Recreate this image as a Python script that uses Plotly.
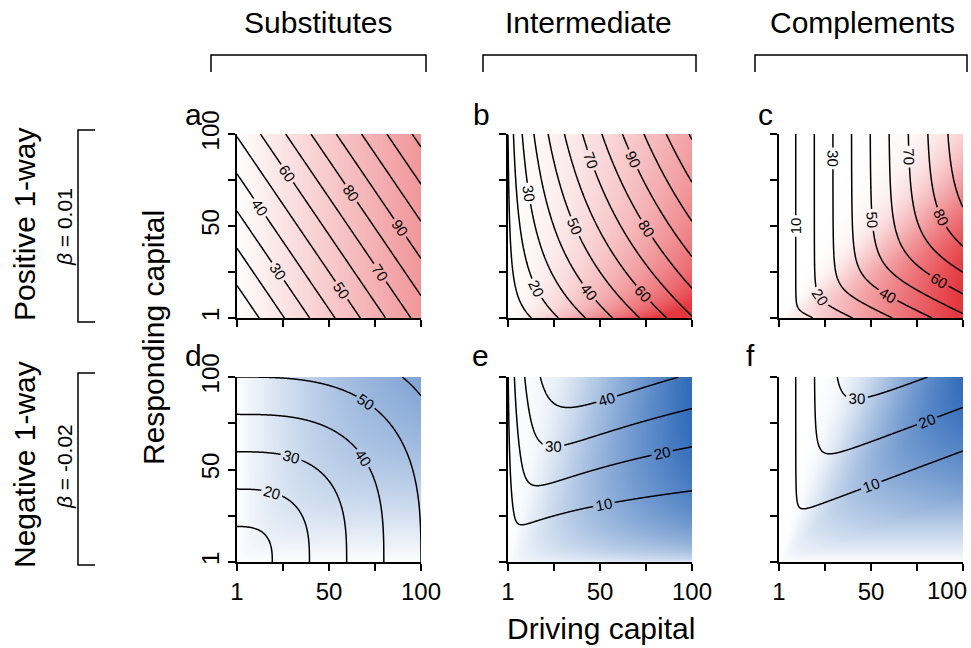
import numpy as np
import plotly.graph_objects as go

# ---------------- values ----------------
col_titles = ["Substitutes", "Intermediate", "Complements"]
panel_letters = [["a", "b", "c"], ["d", "e", "f"]]
row_titles = ["Positive 1-way", "Negative 1-way"]
row_betas = ["<i>β</i> = 0.01", "<i>β</i> = -0.02"]
x_title = "Driving capital"
y_title = "Responding capital"

tick_vals = [1, 25.75, 50.5, 75.25, 100]
tick_text = ["1", "", "50", "", "100"]

# model parameters estimated from the contour labels
pos_gain = 0.47          # responding capital gain per unit driving capital (beta = 0.01)
neg_keep = 0.43          # complements, beta = -0.02: kept share of responding capital
neg_loss = 0.16          # complements, beta = -0.02: loss per unit driving capital
ces_rho = -5.0           # complements CES exponent
subst_power = 3.0        # substitutes, beta = -0.02: superellipse exponent
inter_amp = 0.95         # intermediate, beta = -0.02
inter_scale = 2.3

# contour levels (start, end, step) per panel
levels = [[(10, 130, 10), (10, 120, 10), (10, 90, 10)],
          [(10, 60, 10), (10, 40, 10), (10, 30, 10)]]
color_max = [45.0, 60.0]
color_scales = [[[0, "rgb(255,255,255)"], [1, "rgb(228,55,62)"]],
                [[0, "rgb(255,255,255)"], [1, "rgb(50,108,186)"]]]

# ---------------- fields ----------------
g = np.linspace(1, 100, 240)
X, Y = np.meshgrid(g, g)


def ces(a, b, r=ces_rho):
    return (a ** r + b ** r) ** (1.0 / r)


Yp = Y + pos_gain * X
fields = [[None] * 3, [None] * 3]
W = (X + Yp) / 2
fields[0][0] = (W, W - (X + Y) / 2)
W = np.sqrt(X * Yp)
fields[0][1] = (W, W - np.sqrt(X * Y))
W = ces(X, Yp)
fields[0][2] = (W, W - ces(X, Y))
W = ((X / 2) ** subst_power + (Y / 2) ** subst_power) ** (1 / subst_power)
fields[1][0] = (W, (X + Y) / 2 - W)
W = inter_amp * np.sqrt(X * Y) * np.tanh(Y / (inter_scale * X))
fields[1][1] = (W, np.sqrt(X * Y) - W)
Yn = np.maximum(neg_keep * Y - neg_loss * X, 1e-6)
W = ces(X, Yn)
fields[1][2] = (W, ces(X, Y) - W)

# ---------------- layout geometry (pixels) ----------------
FW, FH = 971, 648
col_px = [(237, 421), (508, 692), (779, 963)]
row_px = [(134, 318), (377, 562)]


def px(x):
    return x / FW


def py(y):
    return 1 - y / FH


fig = go.Figure()
FONT = "Liberation Sans, Arial, Helvetica, sans-serif"

k = 0
for r in range(2):
    for c in range(3):
        k += 1
        xa = "x" if k == 1 else f"x{k}"
        ya = "y" if k == 1 else f"y{k}"
        Wf, Cf = fields[r][c]
        fig.add_trace(go.Heatmap(
            x=g, y=g, z=np.clip(Cf, 0, None), zmin=0, zmax=color_max[r],
            colorscale=color_scales[r], showscale=False, hoverinfo="skip",
            xaxis=xa, yaxis=ya))
        s, e, st = levels[r][c]
        fig.add_trace(go.Contour(
            x=g, y=g, z=Wf, xaxis=xa, yaxis=ya,
            contours=dict(start=s, end=e, size=st, coloring="lines",
                          showlabels=True, labelformat=".0f",
                          labelfont=dict(size=15, color="black", family=FONT)),
            colorscale=[[0, "black"], [1, "black"]], showscale=False,
            line=dict(width=1.5, color="black"), hoverinfo="skip"))
        x0, x1 = col_px[c]
        y0, y1 = row_px[r]
        axis_common = dict(range=[1, 100], showline=True, linecolor="black",
                           linewidth=1.5, ticks="outside", ticklen=7,
                           tickwidth=1.5, tickcolor="black", showgrid=False,
                           zeroline=False, tickvals=tick_vals, automargin=False,
                           ticklabeloverflow="allow",
                           tickfont=dict(size=24, family=FONT, color="black"))
        xkey = "xaxis" if k == 1 else f"xaxis{k}"
        ykey = "yaxis" if k == 1 else f"yaxis{k}"
        if r == 1:
            xt = list(tick_text)
            if c == 2:
                xt[-1] = ""   # drawn below as an annotation kept inside the page
        else:
            xt = [""] * 5
        fig.layout[xkey] = dict(domain=[px(x0), px(x1)], anchor=ya,
                                ticktext=xt, **axis_common)
        fig.layout[ykey] = dict(domain=[py(y1), py(y0)], anchor=xa,
                                ticktext=tick_text if c == 0 else [""] * 5,
                                tickangle=-90, **axis_common)

ann = []
title_x = [318, 588, 862]
for c, t in enumerate(col_titles):
    ann.append(dict(x=px(title_x[c]), y=py(22), text=t, font=dict(size=30)))
letter_pos = [[(193, 114), (481, 114), (765, 114)],
              [(193, 355), (480, 355), (750, 355)]]
for r in range(2):
    for c in range(3):
        lx, ly = letter_pos[r][c]
        ann.append(dict(x=px(lx), y=py(ly), text=panel_letters[r][c],
                        font=dict(size=30)))
row_cy = [225, 465]
for r in range(2):
    ann.append(dict(x=px(24), y=py(row_cy[r]), text=row_titles[r],
                    textangle=-90, font=dict(size=30)))
    ann.append(dict(x=px(64), y=py(row_cy[r] + 2), text=row_betas[r],
                    textangle=-90, font=dict(size=21)))
ann.append(dict(x=px(153), y=py(338), text=y_title, textangle=-90,
                font=dict(size=30)))
ann.append(dict(x=px(601), y=py(628), text=x_title, font=dict(size=30)))
for a in ann:
    a.update(xref="paper", yref="paper", showarrow=False,
             xanchor="center", yanchor="middle")
    a["font"].update(family=FONT, color="black")
# last tick label of panel f, right-aligned inside the page
ann.append(dict(x=969 / FW, y=py(590), xref="paper", yref="paper",
                text=tick_text[-1], showarrow=False, xanchor="right",
                yanchor="middle", font=dict(size=24, family=FONT, color="black")))

shapes = []
for (xa0, xa1) in [(211, 426), (483, 696), (755, 967)]:
    shapes.append(dict(type="path", xref="paper", yref="paper",
                       path=f"M {px(xa0)} {py(72)} L {px(xa0)} {py(55)} "
                            f"L {px(xa1)} {py(55)} L {px(xa1)} {py(72)}",
                       line=dict(color="black", width=1.5)))
for (ya0, ya1) in [(130, 322), (373, 565)]:
    shapes.append(dict(type="path", xref="paper", yref="paper",
                       path=f"M {px(95)} {py(ya0)} L {px(78)} {py(ya0)} "
                            f"L {px(78)} {py(ya1)} L {px(95)} {py(ya1)}",
                       line=dict(color="black", width=1.5)))

fig.update_layout(width=FW, height=FH,
                  margin=dict(l=0, r=0, t=0, b=0, pad=0, autoexpand=False),
                  paper_bgcolor="white", plot_bgcolor="white",
                  annotations=ann, shapes=shapes, showlegend=False,
                  font=dict(family=FONT, color="black"))
fig.write_html("out.html", config={"displayModeBar": False},
               post_script="document.body.style.margin='0px';")
